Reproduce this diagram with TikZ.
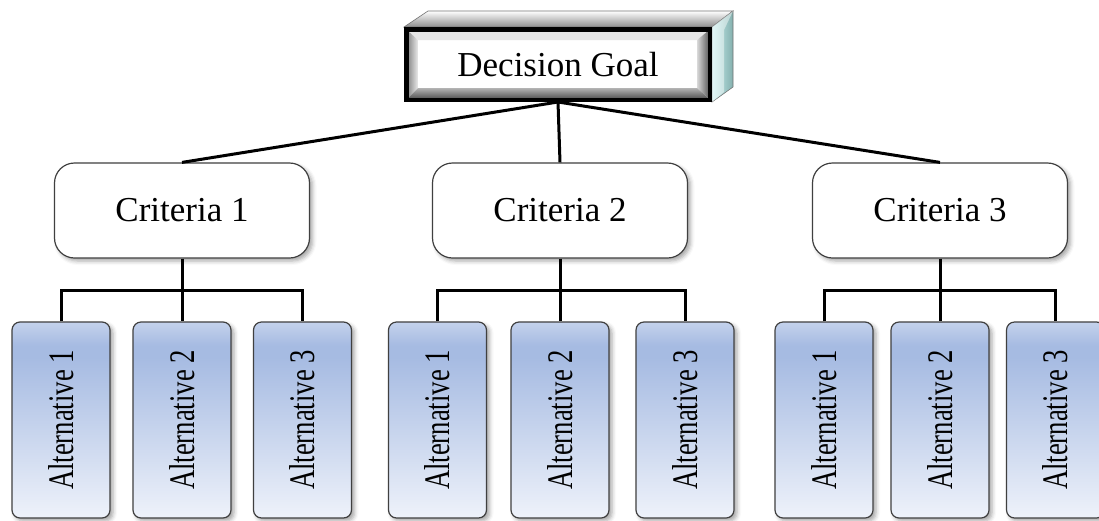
\documentclass[tikz,border=0pt]{standalone}
\usepackage{fontspec}
\setmainfont{Liberation Serif}
\usepackage{graphicx}
\usetikzlibrary{shadows.blur}
\definecolor{altbot}{HTML}{EEF2FA}
\definecolor{altmid}{HTML}{A6BBE2}
\definecolor{alttop}{HTML}{C4D2EC}
\definecolor{sidelight}{HTML}{C8F0F0}
\definecolor{sidedark}{HTML}{84B0AE}
\pgfdeclareverticalshading{altshade}{100bp}{color(0bp)=(altbot); color(25bp)=(altbot); color(66bp)=(altmid); color(69bp)=(altmid); color(75bp)=(alttop); color(100bp)=(alttop)}
\begin{document}
\begin{tikzpicture}[x=1pt,y=-1pt,
  softshadow/.style={blur shadow={shadow xshift=3pt, shadow yshift=-3pt, shadow blur radius=4pt, shadow opacity=35}},
  crit/.style={draw=black!75, line width=1.2pt, fill=white, rounded corners=20pt,
    minimum width=255pt, minimum height=95pt, inner sep=0pt,
    font=\fontsize{35}{40}\selectfont, softshadow},
  alt/.style={draw=black!75, line width=1.2pt, shading=altshade, rounded corners=8pt,
    minimum width=98pt, minimum height=196pt, inner sep=0pt,
    font=\fontsize{36}{40}\selectfont, softshadow},
  goalbox/.style={draw=black, line width=4.5pt, minimum width=303.5pt, minimum height=70.5pt,
    inner sep=0pt, font=\fontsize{35}{40}\selectfont},
  conn/.style={line width=3pt, black},
  facestyle/.style={draw=black!55, line width=0.6pt}]
\useasboundingbox (0,0) rectangle (1099,520);

% 3D goal box: top and right faces
\path[facestyle, top color=white, bottom color=black!45] (404,27) -- (428,11) -- (733,11) -- (712,27) -- cycle;
\path[facestyle, left color=sidelight, right color=sidedark] (712,27) -- (733,11) -- (733,87) -- (712,102) -- cycle;
\fill[white, opacity=0.45] (712,27) -- (733,11) -- (724,30) -- (724,92) -- (712,102) -- cycle;
% front face bevel
\fill[white] (408,31) rectangle (708,98);
\fill[black!10] (408,31) -- (708,31) -- (697,40) -- (418,40) -- cycle;
\shade[left color=black!45, right color=black!8] (408,31) -- (418,40) -- (418,88) -- (408,98) -- cycle;
\shade[left color=black!15, right color=black!60] (708,31) -- (697,40) -- (697,88) -- (708,98) -- cycle;
\shade[top color=black!30, bottom color=black!65] (408,98) -- (418,88) -- (697,88) -- (708,98) -- cycle;
\node[goalbox] (goal) at (558,64.5) {Decision Goal};

% criteria
\node[crit] (c1) at (182,210.5) {Criteria 1};
\node[crit] (c2) at (560,210.5) {Criteria 2};
\node[crit] (c3) at (940,210.5) {Criteria 3};

% alternatives
\foreach \g/\xa/\xb/\xc in {1/61/182/302.5, 2/437.5/560/685, 3/824/940/1055.5}{
  \node[alt] (a\g1) at (\xa,420) {\rotatebox{90}{\scalebox{0.74}[1]{Alternative 1}}};
  \node[alt] (a\g2) at (\xb,420) {\rotatebox{90}{\scalebox{0.74}[1]{Alternative 2}}};
  \node[alt] (a\g3) at (\xc,420) {\rotatebox{90}{\scalebox{0.74}[1]{Alternative 3}}};
}

% goal connectors
\draw[conn] (goal.south) -- (c1.north);
\draw[conn] (goal.south) -- (c2.north);
\draw[conn] (goal.south) -- (c3.north);

% criteria to alternatives
\foreach \g in {1,2,3}{
  \coordinate (b\g) at (c\g.south |- 0,290);
  \draw[conn] (c\g.south) -- (b\g);
  \draw[conn] (a\g1.north) |- (b\g) -| (a\g3.north);
  \draw[conn] (b\g) -- (a\g2.north);
}
\end{tikzpicture}
\end{document}
